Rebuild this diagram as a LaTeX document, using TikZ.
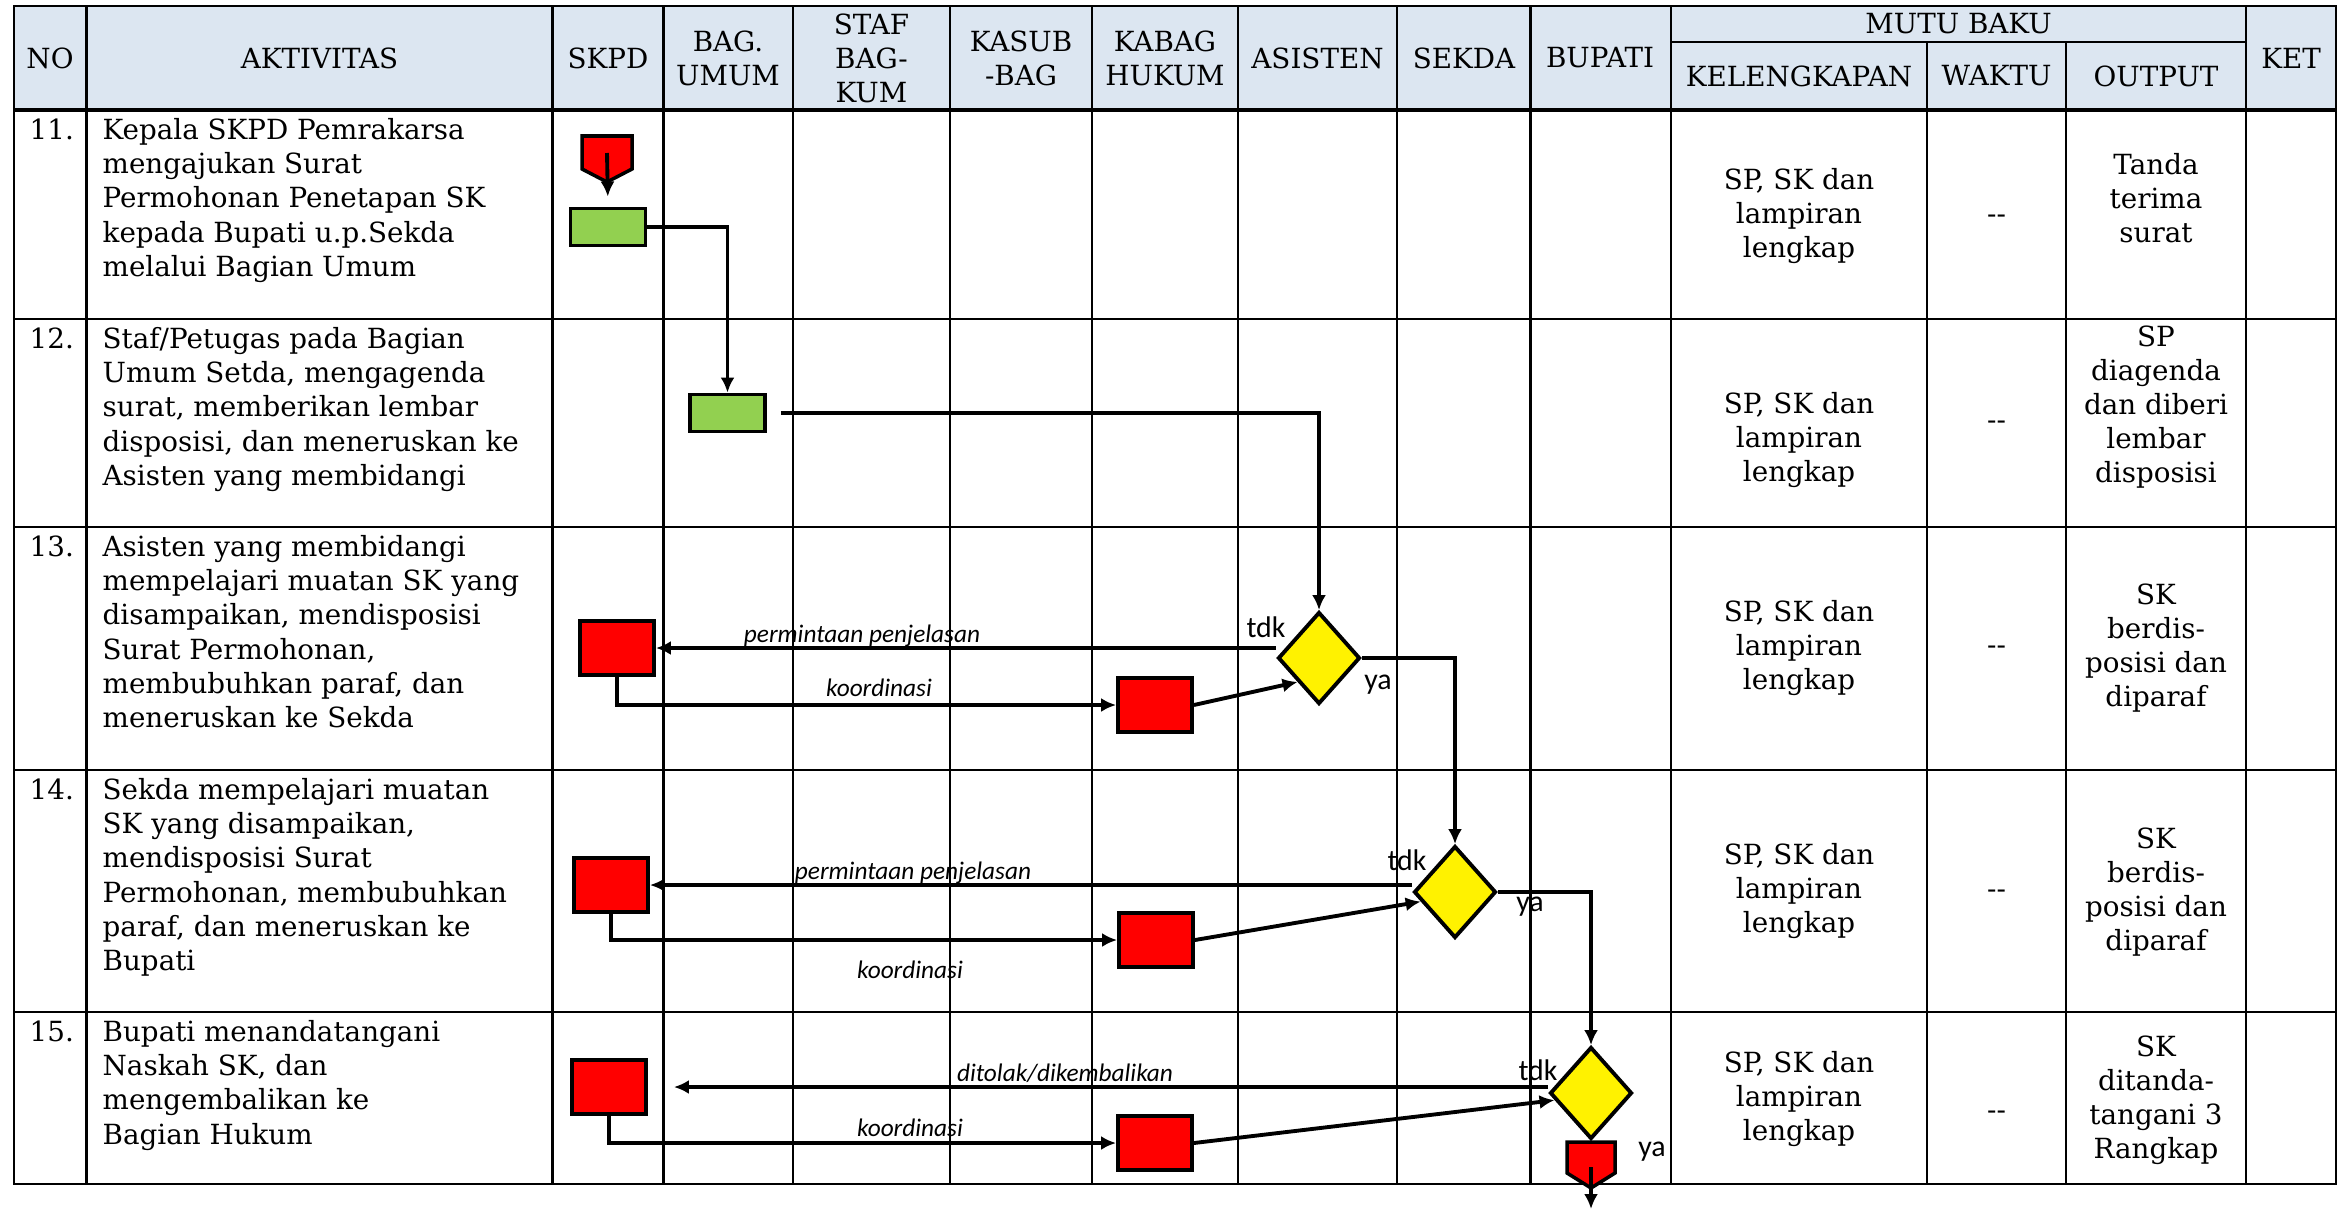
\documentclass[tikz,border=0pt]{standalone}
\usepackage{fontspec}
\setmainfont{DejaVu Serif}
\newfontfamily\lblfont{Carlito}
\usetikzlibrary{shapes,arrows.meta,calc}
\definecolor{kepalatabel}{RGB}{220,230,241}
\definecolor{daun}{RGB}{146,208,80}

\begin{document}
\begin{tikzpicture}[x=0.1mm,y=-0.1mm]
\tikzstyle{every node}=[font=\fontsize{7.9}{9.7}\selectfont,inner sep=0pt]
\tikzstyle{kotak}=[rectangle,draw,line width=1.1pt,fill=red,minimum width=7.4mm,minimum height=5.4mm]
\tikzstyle{hijau}=[kotak,fill=daun,minimum width=7.5mm,minimum height=3.7mm]
\tikzstyle{putusan}=[diamond,draw,line width=1.1pt,fill=yellow,minimum width=8.2mm,minimum height=9.2mm]
\tikzstyle{alur}=[line width=1.1pt,-{Latex[length=1.5mm,width=1.4mm]}]
\tikzstyle{ket}=[font=\lblfont\itshape\fontsize{7.2}{8}\selectfont]
\tikzstyle{jawab}=[font=\lblfont\fontsize{8.5}{9}\selectfont]
\tikzstyle{garis}=[line width=0.6pt]
\useasboundingbox (0,0) rectangle (2348,1211);

% tabel
\fill[kepalatabel] (14,6) rectangle (2336,110);
\draw[garis] (14,6) rectangle (2336,1184);
\foreach \y in {319,527,770,1012} \draw[garis] (14,\y) -- (2336,\y);
\draw[line width=1pt] (14,110) -- (2336,110);
\foreach \x in {86.5,552.5,663.5,793,950,1092,1238,1397,1530.5,1671,2246} \draw[garis] (\x,6) -- (\x,1184);
\foreach \x in {1927,2066} \draw[garis] (\x,42) -- (\x,1184);
\draw[garis] (1671,42) -- (2246,42);

% kepala tabel
\node (hNo) at (50,58) {NO};
\node (hAkt) at (319.5,58) {AKTIVITAS};
\node (hSkpd) at (608,58) {SKPD};
\node[align=center] (hUmum) at (728,58) {BAG.\\UMUM};
\node[align=center] (hStaf) at (871.5,58) {STAF\\BAG-\\KUM};
\node[align=center] (hKasub) at (1021,58) {KASUB\\-BAG};
\node[align=center] (hKabag) at (1165,58) {KABAG\\HUKUM};
\node (hAsisten) at (1317.5,58) {ASISTEN};
\node (hSekda) at (1464,58) {SEKDA};
\node (hBupati) at (1600,58) {BUPATI};
\node (hMutu) at (1958.5,24) {MUTU BAKU};
\node (hLengkap) at (1799,76) {KELENGKAPAN};
\node (hWaktu) at (1996.5,76) {WAKTU};
\node (hOutput) at (2156,76) {OUTPUT};
\node (hKet) at (2291,58) {KET};

% nomor dan aktivitas
\node[anchor=north west] (n11) at (29,118) {11.};
\node[anchor=north west,align=left] (a11) at (102,118) {Kepala SKPD Pemrakarsa\\mengajukan Surat\\Permohonan Penetapan SK\\kepada Bupati u.p.Sekda\\melalui Bagian Umum};
\node[anchor=north west] (n12) at (29,327) {12.};
\node[anchor=north west,align=left] (a12) at (102,327) {Staf/Petugas pada Bagian\\Umum Setda, mengagenda\\surat, memberikan lembar\\disposisi, dan meneruskan ke\\Asisten yang membidangi};
\node[anchor=north west] (n13) at (29,535) {13.};
\node[anchor=north west,align=left] (a13) at (102,535) {Asisten yang membidangi\\mempelajari muatan SK yang\\disampaikan, mendisposisi\\Surat Permohonan,\\membubuhkan paraf, dan\\meneruskan ke Sekda};
\node[anchor=north west] (n14) at (29,778) {14.};
\node[anchor=north west,align=left] (a14) at (102,778) {Sekda mempelajari muatan\\SK yang disampaikan,\\mendisposisi Surat\\Permohonan, membubuhkan\\paraf, dan meneruskan ke\\Bupati};
\node[anchor=north west] (n15) at (29,1020) {15.};
\node[anchor=north west,align=left] (a15) at (102,1020) {Bupati menandatangani\\Naskah SK, dan\\mengembalikan ke\\Bagian Hukum};

% mutu baku
\node[align=center] (k11) at (1799,216) {SP, SK dan\\lampiran\\lengkap};
\node[align=center] (k12) at (1799,440) {SP, SK dan\\lampiran\\lengkap};
\node[align=center] (k13) at (1799,648) {SP, SK dan\\lampiran\\lengkap};
\node[align=center] (k14) at (1799,891) {SP, SK dan\\lampiran\\lengkap};
\node[align=center] (k15) at (1799,1099) {SP, SK dan\\lampiran\\lengkap};
\node (w11) at (1996.5,219) {-{}-};
\node (w12) at (1996.5,425) {-{}-};
\node (w13) at (1996.5,650) {-{}-};
\node (w14) at (1996.5,894) {-{}-};
\node (w15) at (1996.5,1115) {-{}-};
\node[align=center] (o11) at (2156,198) {Tanda\\terima\\surat};
\node[align=center] (o12) at (2156,407) {SP\\diagenda\\dan diberi\\lembar\\disposisi};
\node[align=center] (o13) at (2156,648) {SK\\berdis-\\posisi dan\\diparaf};
\node[align=center] (o14) at (2156,892) {SK\\berdis-\\posisi dan\\diparaf};
\node[align=center] (o15) at (2156,1100) {SK\\ditanda-\\tangani 3\\Rangkap};

% bagan alir
\coordinate (mulai) at (607,136);
\filldraw[fill=red,line width=1pt] (mulai) ++(-25,0) -- ++(50,0) -- ++(0,33) -- ++(-25,13) -- ++(-25,-13) -- cycle;
\node[hijau] (g11) at (608,227) {};
\node[hijau] (g12) at (727.5,413) {};
\node[putusan] (d1) at (1319,658) {};
\node[putusan] (d2) at (1455,892) {};
\node[putusan] (d3) at (1591,1093) {};
\node[kotak] (s13) at (617,648) {};
\node[kotak] (r13) at (1155,705) {};
\node[kotak] (s14) at (611,885) {};
\node[kotak] (r14) at (1156,940) {};
\node[kotak] (s15) at (609,1087) {};
\node[kotak] (r15) at (1155,1143) {};
\coordinate (akhir) at (1591,1142);
\filldraw[fill=red,line width=1pt] (akhir) ++(-24,0) -- ++(48,0) -- ++(0,31) -- ++(-24,15) -- ++(-24,-15) -- cycle;
\coordinate (keluar) at (1591,1209);

\draw[alur,shorten >=1mm] ($(mulai)+(0,17)$) -- (g11.north);
\draw[alur] (g11.east) -| (g12.north);
\draw[alur,shorten <=1.4mm] (g12.east) -| (d1.north);

\draw[alur] (d1.west |- s13.east) -- (s13.east);
\draw[alur] (s13.south) |- (r13.west);
\draw[alur] (r13.east) -- ($(d1.west)!.5!(d1.south)$);
\draw[alur] (d1.east) -| (d2.north);
\node[ket] (p13) at (862,636) {permintaan penjelasan};
\node[ket] (c13) at (879,688) {koordinasi};
\node[jawab] (t13) at (1266,627) {tdk};
\node[jawab] (y13) at (1378,685) {ya};

\draw[alur] (d2.west |- s14.east) -- (s14.east);
\draw[alur] (s14.south) |- (r14.west);
\draw[alur] (r14.east) -- ($(d2.west)!.2!(d2.south)$);
\draw[alur] (d2.east) -| (d3.north);
\node[ket] (p14) at (913,873) {permintaan penjelasan};
\node[ket] (c14) at (910,970) {koordinasi};
\node[jawab] (t14) at (1407,860) {tdk};
\node[jawab] (y14) at (1530,907) {ya};

\draw[alur,shorten >=2.6mm] (d3.west |- s15.east) -- (s15.east);
\draw[alur] (s15.south) |- (r15.west);
\draw[alur] (r15.east) -- ($(d3.west)!.15!(d3.south)$);
\draw[alur] ($(akhir)+(0,25)$) -- (keluar);
\node[ket] (p15) at (1065,1073) {ditolak/dikembalikan};
\node[ket] (c15) at (910,1128) {koordinasi};
\node[jawab] (t15) at (1538,1070) {tdk};
\node[jawab] (y15) at (1652,1152) {ya};
\end{tikzpicture}
\end{document}
